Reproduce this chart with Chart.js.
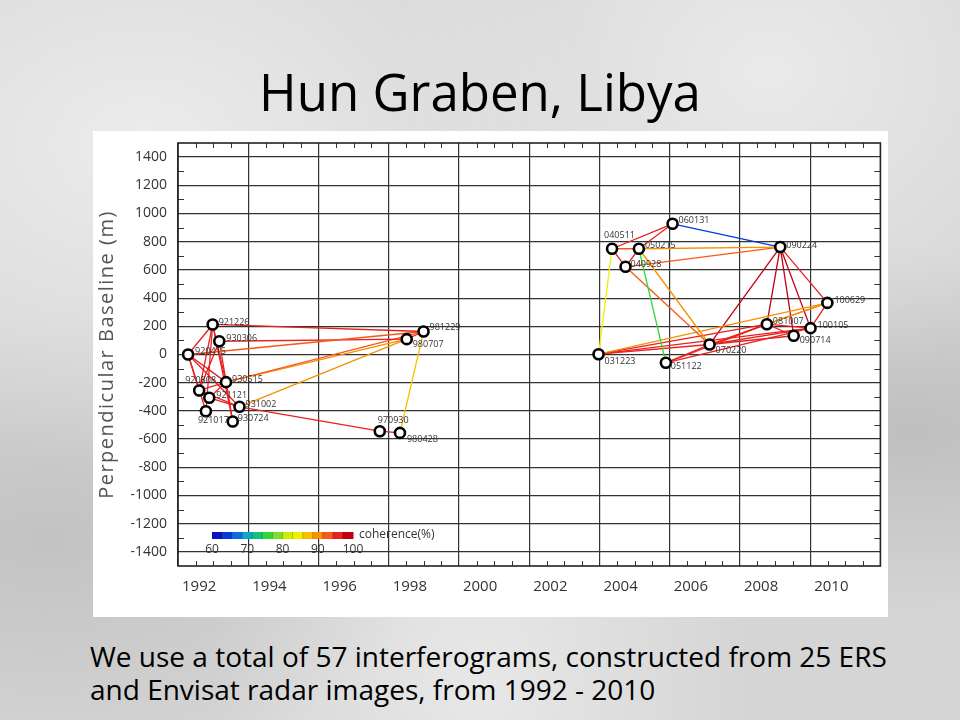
<!DOCTYPE html>
<html>
  <head>
    <meta charset="utf-8">
    <title>Hun Graben, Libya</title>
    <script src="https://cdn.jsdelivr.net/npm/chart.js@4.4.1/dist/chart.umd.min.js"></script>
    <style>
      html, body {
        margin: 0;
        padding: 0;
      }
      body {
        width: 960px;
        height: 720px;
        position: relative;
        overflow: hidden;
        font-family: 'Open Sans', Arial, sans-serif;
        background-color: #d5d5d5;
        background-image:
          radial-gradient(ellipse at 15% 20%, rgba(255,255,255,0.55), rgba(255,255,255,0) 40%),
          radial-gradient(ellipse at 80% 10%, rgba(255,255,255,0.5), rgba(255,255,255,0) 35%),
          radial-gradient(ellipse at 95% 60%, rgba(150,150,150,0.35), rgba(150,150,150,0) 30%),
          radial-gradient(ellipse at 5% 75%, rgba(160,160,160,0.35), rgba(160,160,160,0) 30%),
          radial-gradient(ellipse at 50% 95%, rgba(255,255,255,0.45), rgba(255,255,255,0) 40%);
      }
      #title {
        position: absolute;
        left: 0;
        width: 960px;
        top: 56px;
        text-align: center;
        font-size: 51px;
        line-height: 70px;
        color: #000;
      }
      #frame {
        position: absolute;
        left: 93px;
        top: 131px;
        width: 795px;
        height: 486px;
        background: #fff;
      }
      #caption {
        position: absolute;
        left: 90px;
        top: 640px;
        font-size: 28px;
        line-height: 33px;
        color: #000;
      }
    </style>
  </head>
  <body>
    <div id="title">Hun Graben, Libya</div>
    <div id="frame"><canvas id="canvas"></canvas></div>
    <div id="caption">We use a total of 57 interferograms, constructed from 25 ERS<br>and Envisat radar images, from 1992 - 2010</div>

    <script>
      // acquisitions (yymmdd) and perpendicular baseline (m)
      var nodeDates = ['920415','920808','921017','921121','921226','930306','930515','930724','931002',
                       '970930','980428','980707','981229',
                       '031223','040511','040928','050215','051122','060131','070220',
                       '081007','090224','090714','100105','100629'];
      var nodeBaselines = [0, -255, -402, -307, 213, 94, -196, -475, -371,
                           -544, -556, 109, 163,
                           2, 750, 622, 750, -59, 927, 71,
                           215, 762, 133, 187, 366];

      // interferogram pairs and coherence (%)
      var edgeFrom = ['921226','921226','921226','921226','921226','921226',
                      '920415','920415','920415','920415','920415',
                      '930306','930306','930515','930515','930515','930515',
                      '920808','931002','931002','970930','980428','980707','921121','930724',
                      '060131','060131','060131','040511','040511','040511',
                      '050215','050215','050215','050215','040928','040928',
                      '031223','031223','031223','031223','051122','051122',
                      '070220','070220','070220','070220','070220',
                      '090224','090224','090224','090224','081007','081007','100629','100629','051122'];
      var edgeTo   = ['981229','920415','920808','921017','930515','930724',
                      '981229','920808','921017','930515','931002',
                      '980707','920808','981229','980707','920808','921121',
                      '931002','980707','970930','980428','981229','981229','931002','930306',
                      '040511','050215','090224','050215','040928','031223',
                      '040928','090224','051122','070220','090224','070220',
                      '100629','081007','070220','100105','070220','081007',
                      '090224','081007','100105','090714','100629',
                      '081007','090714','100105','100629','100105','090714','100105','081007','100105'];
      var edgeCoherence = [95,96,96,96,96,96,
                           94,96,96,96,96,
                           95,96,92,90,96,96,
                           96,89,95,96,86,95,96,96,
                           96,96,63,94,96,83,
                           96,89,75,89,92,92,
                           91,95,95,95,96,95,
                           99,95,95,95,91,
                           99,99,99,97,96,96,96,92,95];

      // axes
      var xTicks = [1992, 1994, 1996, 1998, 2000, 2002, 2004, 2006, 2008, 2010];
      var yTicks = [-1400, -1200, -1000, -800, -600, -400, -200, 0, 200, 400, 600, 800, 1000, 1200, 1400];
      var barLabels = [60, 70, 80, 90, 100];

      // label offsets (px) for each acquisition
      var labelDx = [7,-14,-8,7,6,7,6,5,6, -2,7,6,6, 6,-8,5,6,5,6,6, 6,6,6,7,7];
      var labelDy = [-3,-10,9,-2,-2,-3,-3,-3,-2, -11,7,5,-4, 7,-13,-2,-3,4,-3,6, -3,-2,5,-3,-2];

      var cohColors = ['#0a14c0','#0838e0','#0a6ee0','#0aa8c8','#14c07a','#30d838','#78e030',
                       '#c8f000','#f0f000','#f8c000','#f89000','#f85818','#e82020','#c00010'];

      function decYear(s){
        var yy = parseInt(s.slice(0,2));
        var year = yy < 50 ? 2000 + yy : 1900 + yy;
        var m = parseInt(s.slice(2,4)) - 1;
        var d = parseInt(s.slice(4,6));
        var doy = (Date.UTC(year, m, d) - Date.UTC(year, 0, 1)) / 86400000;
        return year + doy / 365;
      }
      function cohColor(c){
        var i = Math.floor((c - 60) / 40 * cohColors.length);
        if (i < 0) i = 0;
        if (i > cohColors.length - 1) i = cohColors.length - 1;
        return cohColors[i];
      }

      var nodePts = nodeDates.map(function(d, i){ return {x: decYear(d), y: nodeBaselines[i]}; });
      function nodeOf(name){ return nodePts[nodeDates.indexOf(name)]; }

      var datasets = [{
        label: 'acquisitions',
        data: nodePts,
        order: 0,
        showLine: false,
        pointRadius: 5,
        pointHoverRadius: 5,
        pointBorderWidth: 2.6,
        pointBorderColor: '#000',
        pointBackgroundColor: '#fff'
      }];
      for (var i = 0; i < edgeFrom.length; i++) {
        datasets.push({
          label: edgeFrom[i] + '-' + edgeTo[i],
          data: [nodeOf(edgeFrom[i]), nodeOf(edgeTo[i])],
          order: 1,
          showLine: true,
          borderColor: cohColor(edgeCoherence[i]),
          borderWidth: 1.3,
          pointRadius: 0
        });
      }

      var gridColor = '#333';

      // frame, minor ticks, axis title, point labels and the coherence bar
      var decor = {
        id: 'decor',
        beforeDatasetsDraw: function(chart){
          var c = chart.ctx, a = chart.chartArea;
          var xs = chart.scales.x, ys = chart.scales.y;
          c.save();
          c.strokeStyle = gridColor;
          c.lineWidth = 1;
          for (var v = 1992.5; v < 2012; v += 0.5) {
            if (v % 2 === 0) continue;
            var px = Math.round(xs.getPixelForValue(v)) + 0.5;
            c.beginPath(); c.moveTo(px, a.bottom); c.lineTo(px, a.bottom - 5); c.stroke();
            c.beginPath(); c.moveTo(px, a.top); c.lineTo(px, a.top + 5); c.stroke();
          }
          for (var w = -1300; w <= 1300; w += 200) {
            var py = Math.round(ys.getPixelForValue(w)) + 0.5;
            c.beginPath(); c.moveTo(a.left, py); c.lineTo(a.left + 6, py); c.stroke();
            c.beginPath(); c.moveTo(a.right, py); c.lineTo(a.right - 6, py); c.stroke();
          }
          c.lineWidth = 1.6;
          c.strokeStyle = '#222';
          c.strokeRect(a.left, a.top, a.right - a.left, a.bottom - a.top);

          // y axis title
          c.save();
          c.translate(14, (a.top + a.bottom) / 2);
          c.rotate(-Math.PI / 2);
          c.fillStyle = '#555';
          c.font = '20px "Open Sans", sans-serif';
          c.letterSpacing = '1.5px';
          c.textAlign = 'center';
          c.textBaseline = 'middle';
          c.fillText('Perpendicular Baseline (m)', 0, 0);
          c.restore();

          // coherence bar
          var bx = a.left + 34, by = a.top + 389, bw = 141, bh = 7;
          var sw = bw / cohColors.length;
          for (var k = 0; k < cohColors.length; k++) {
            c.fillStyle = cohColors[k];
            c.fillRect(bx + k * sw, by, sw + 0.5, bh);
          }
          c.strokeStyle = 'rgba(0,0,0,0.35)';
          c.lineWidth = 0.6;
          for (var k2 = 1; k2 < cohColors.length; k2++) {
            c.beginPath(); c.moveTo(bx + k2 * sw, by); c.lineTo(bx + k2 * sw, by + bh); c.stroke();
          }
          c.fillStyle = '#333';
          c.font = '12px "Open Sans", sans-serif';
          c.textBaseline = 'middle';
          c.textAlign = 'left';
          c.fillText('coherence(%)', bx + bw + 6, by + 3);
          c.textAlign = 'center';
          for (var m = 0; m < barLabels.length; m++) {
            c.fillText(String(barLabels[m]), bx + m * bw / (barLabels.length - 1), by + 18);
          }
          c.restore();
        },
        afterDatasetsDraw: function(chart){
          var c = chart.ctx;
          var xs = chart.scales.x, ys = chart.scales.y;
          c.save();
          c.fillStyle = '#333';
          c.font = '9px "Open Sans", sans-serif';
          c.textBaseline = 'middle';
          c.textAlign = 'left';
          for (var i = 0; i < nodePts.length; i++) {
            var px = xs.getPixelForValue(nodePts[i].x);
            var py = ys.getPixelForValue(nodePts[i].y);
            c.fillText(nodeDates[i], px + labelDx[i], py + labelDy[i]);
          }
          c.restore();
        }
      };

      var ctx = document.getElementById('canvas').getContext('2d');
      var myChart = new Chart(ctx, {
        type: 'scatter',
        data: {datasets: datasets},
        plugins: [decor],
        options: {
          responsive: true,
          maintainAspectRatio: false,
          animation: false,
          events: [],
          layout: {padding: {top: 12, right: 4, left: 0, bottom: 0}},
          plugins: {legend: {display: false}, tooltip: {enabled: false}},
          scales: {
            x: {
              type: 'linear',
              min: 1992,
              max: 2012,
              afterBuildTicks: function(s){ s.ticks = xTicks.map(function(v){ return {value: v}; }); },
              afterFit: function(s){ s.height = 51; s.paddingLeft = 0; s.paddingRight = 0; },
              grid: {color: gridColor, lineWidth: 1.2, drawTicks: false},
              border: {display: false},
              ticks: {
                align: 'start',
                labelOffset: 4,
                padding: 12,
                maxRotation: 0,
                autoSkip: false,
                color: '#333',
                font: {family: 'Open Sans', size: 15},
                callback: function(v){ return String(v); }
              }
            },
            y: {
              type: 'linear',
              min: -1500,
              max: 1500,
              afterBuildTicks: function(s){ s.ticks = yTicks.map(function(v){ return {value: v}; }); },
              afterFit: function(s){ s.width = 85; s.paddingTop = 0; s.paddingBottom = 0; },
              grid: {color: gridColor, lineWidth: 1.2, drawTicks: false},
              border: {display: false},
              ticks: {
                padding: 11,
                autoSkip: false,
                color: '#333',
                font: {family: 'Open Sans', size: 14},
                callback: function(v){ return String(v); }
              }
            }
          }
        }
      });
    </script>
  </body>
</html>
